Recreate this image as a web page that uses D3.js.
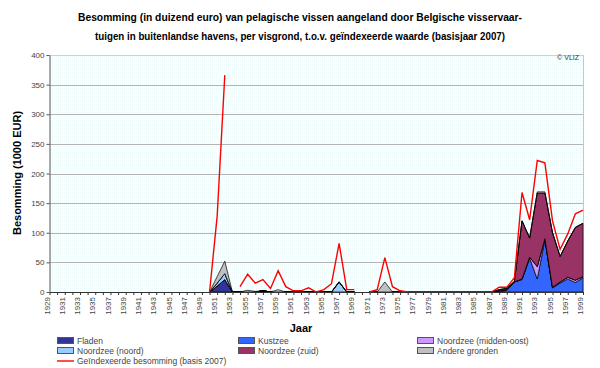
<!DOCTYPE html>
<html><head><meta charset="utf-8">
<script src="https://cdn.jsdelivr.net/npm/d3@7/dist/d3.min.js"></script>
<style>body{margin:0;background:#fff}svg{display:block}</style>
</head><body><svg id="c" width="600" height="368"></svg>
<script>
const years = d3.range(1929, 2000);
const N = null;
// 1929..1999
const fladen = [N,N,N,N,N,N,N,N,N,N,N,N,N,N,N,N,N,N,N,N,N,
  0,10,21,0,0,0,0,2,0,0,0,0,0,0,0,0,0,0,0,0,
  N,0,0,0,0,0,0,0,0,0,0,0,0,0,0,0,0,0,0,0,0,0,0,0,0,0,0,0,0,0];
const kustzee = [N,N,N,N,N,N,N,N,N,N,N,N,N,N,N,N,N,N,N,N,N,
  0,0,0,0,0,0,0,0,0,0,0,0,0,0,0,0,0,0,0,0,
  N,0,0,0,0,0,0,0,0,0,0,0,0,0,0,0,0,0,1,3,17,21,57,22,88,7,15,22,16,24];
const middenOost = [N,N,N,N,N,N,N,N,N,N,N,N,N,N,N,N,N,N,N,N,N,
  0,0,0,0,0,0,0,0,0,0,0,0,0,0,0,0,0,0,0,0,
  N,0,0,0,0,0,0,0,0,0,0,0,0,0,0,0,0,0,1,1,0,1,2,21,2,1,2,3,4,2];
const noord = [N,N,N,N,N,N,N,N,N,N,N,N,N,N,N,N,N,N,N,N,N,
  0,5,10,0,0,0,0,0,0,0,0,0,0,0,0,0,0,17,0,0,
  N,0,0,0,0,0,0,0,0,0,0,0,0,0,0,0,0,0,0,0,0,0,0,0,0,0,0,0,0,0];
const zuid = [N,N,N,N,N,N,N,N,N,N,N,N,N,N,N,N,N,N,N,N,N,
  0,0,0,0,0,0,0,0,0,0,0,0,0,0,0,0,0,0,0,0,
  N,0,0,0,0,0,0,0,0,0,0,0,0,0,0,0,0,0,2,2,1,98,32,124,77,92,43,61,89,90];
const andere = [N,N,N,N,N,N,N,N,N,N,N,N,N,N,N,N,N,N,N,N,N,
  0,11,21,0,0,3,1,0,0,4,0,0,0,0,0,0,0,0,0,0,
  N,0,0,17,0,0,0,0,0,0,0,0,0,0,0,0,0,0,0,0,0,0,0,2,2,0,0,0,0,0];
const geindexeerd = [N,N,N,N,N,N,N,N,N,N,N,N,N,N,N,N,N,N,N,N,N,
  0,128,366,N,9,30,15,21,6,36,9,2,2,7,0,4,14,82,4,4,
  N,0,4,58,9,2,0,0,0,0,0,0,0,0,0,0,0,0,8,8,24,168,122,222,218,120,72,98,132,138];

const seriesNames = ["Fladen","Kustzee","Noordzee (midden-oost)","Noordzee (noord)","Noordzee (zuid)","Andere gronden"];
const seriesData = [fladen,kustzee,middenOost,noord,zuid,andere];
const seriesColors = ["#333399","#3366ff","#cc99ff","#99ccff","#993366","#c0c0c0"];
const lineName = "Geïndexeerde besomming (basis 2007)";
const yTicks = [0,50,100,150,200,250,300,350,400];
const titleLines = ["Besomming (in duizend euro) van pelagische vissen aangeland door Belgische visservaar-",
  "tuigen in buitenlandse havens, per visgrond, t.o.v. geïndexeerde waarde (basisjaar 2007)"];

const svg = d3.select("#c");
const x = d3.scaleLinear().domain([1929,1999]).range([49.5,583]);
const y = d3.scaleLinear().domain([0,400]).range([292,55]);

// background pattern
const defs = svg.append("defs");
const pat = defs.append("pattern").attr("id","dots").attr("width",2).attr("height",2).attr("patternUnits","userSpaceOnUse");
pat.append("rect").attr("width",2).attr("height",2).attr("fill","#fbffff");
pat.append("rect").attr("width",1).attr("height",1).attr("fill","#edf8f8");
svg.append("rect").attr("x",x(1929)).attr("y",y(400)).attr("width",x(1999)-x(1929)).attr("height",y(0)-y(400)).attr("fill","url(#dots)");

// gridlines
svg.append("g").selectAll("line").data(yTicks.filter(d=>d>0)).join("line")
  .attr("x1",x(1929)).attr("x2",x(1999)).attr("y1",d=>Math.round(y(d))+0.5).attr("y2",d=>Math.round(y(d))+0.5)
  .attr("stroke",d=>d===400?"#d0d0d0":"#b4b4b4").attr("stroke-width",1);
svg.append("line").attr("x1",Math.round(x(1999))+0.5).attr("x2",Math.round(x(1999))+0.5)
  .attr("y1",y(400)).attr("y2",y(0)).attr("stroke","#c8c8c8");

// stack
const rows = years.map((yr,i)=>{const o={year:yr,def:fladen[i]!==null};seriesNames.forEach((n,k)=>o[n]=seriesData[k][i]||0);return o;});
const stack = d3.stack().keys(seriesNames)(rows);
const area = d3.area().defined(d=>d.data.def).x(d=>x(d.data.year)).y0(d=>y(d[0])).y1(d=>y(d[1]));
svg.append("g").selectAll("path").data(stack).join("path")
  .attr("d",area).attr("fill",(d,i)=>seriesColors[i]).attr("stroke","#000").attr("stroke-width",0.7).attr("stroke-linejoin","round");

// red line
const line = d3.line().defined(d=>d!==null).x((d,i)=>x(years[i])).y(d=>y(d));
svg.append("path").datum(geindexeerd).attr("d",line).attr("fill","none").attr("stroke","#ff0000").attr("stroke-width",1.4);

// axes
const tf = "Liberation Sans, Arial, sans-serif";
const yAxis = d3.axisLeft(y).tickValues(yTicks).tickSize(3).tickSizeOuter(0);
const gy = svg.append("g").attr("transform",`translate(${x(1929)},0)`).call(yAxis);
gy.select(".domain").attr("stroke","#555");
gy.selectAll(".tick line").attr("stroke","#555");
gy.selectAll("text").attr("font-family",tf).attr("font-size","8px").attr("fill","#444").attr("x",-5);

const xAxis = d3.axisBottom(x).tickValues(years).tickSize(3).tickSizeOuter(0).tickFormat(d=>d%2===1?String(d):"");
const gx = svg.append("g").attr("transform",`translate(0,${y(0)})`).call(xAxis);
gx.select(".domain").attr("stroke","#333");
gx.selectAll(".tick line").attr("stroke","#333");
gx.selectAll("text").attr("font-family",tf).attr("font-size","8px").attr("fill","#444")
  .attr("transform","rotate(-90)").attr("text-anchor","end").attr("x",-5).attr("y",-3).attr("dy","0.32em");

// titles
svg.append("text").attr("x",300).attr("y",21).attr("text-anchor","middle").attr("font-family",tf).attr("font-weight","bold")
  .attr("font-size","11.5px").attr("textLength",444).attr("lengthAdjust","spacingAndGlyphs").attr("fill","#000").text(titleLines[0]);
svg.append("text").attr("x",300).attr("y",40).attr("text-anchor","middle").attr("font-family",tf).attr("font-weight","bold")
  .attr("font-size","11.5px").attr("textLength",410).attr("lengthAdjust","spacingAndGlyphs").attr("fill","#000").text(titleLines[1]);
svg.append("text").attr("transform","translate(21,173) rotate(-90)").attr("text-anchor","middle").attr("font-family",tf)
  .attr("font-weight","bold").attr("font-size","11px").text("Besomming (1000 EUR)");
svg.append("text").attr("x",301).attr("y",332).attr("text-anchor","middle").attr("font-family",tf)
  .attr("font-weight","bold").attr("font-size","11px").text("Jaar");
svg.append("text").attr("x",579).attr("y",60).attr("text-anchor","end").attr("font-family",tf)
  .attr("font-size","7px").attr("fill","#333").text("© VLIZ");

// legend
const colX = [57,238,417], rowY = [341,351,361];
const lg = svg.append("g");
seriesNames.forEach((n,i)=>{
  const cx = colX[i%3], cy = rowY[Math.floor(i/3)];
  lg.append("rect").attr("x",cx+0.5).attr("y",cy-3.5).attr("width",16).attr("height",6).attr("fill",seriesColors[i]).attr("stroke","#555").attr("stroke-width",1);
  lg.append("text").attr("x",cx+20).attr("y",cy).attr("dy","0.35em").attr("font-family",tf).attr("font-size","8.5px").attr("fill","#444").text(n);
});
lg.append("line").attr("x1",57).attr("x2",74).attr("y1",rowY[2]).attr("y2",rowY[2]).attr("stroke","#ff0000").attr("stroke-width",1.4);
lg.append("text").attr("x",77).attr("y",rowY[2]).attr("dy","0.35em").attr("font-family",tf).attr("font-size","8.5px").attr("fill","#444").text(lineName);
</script></body></html>
